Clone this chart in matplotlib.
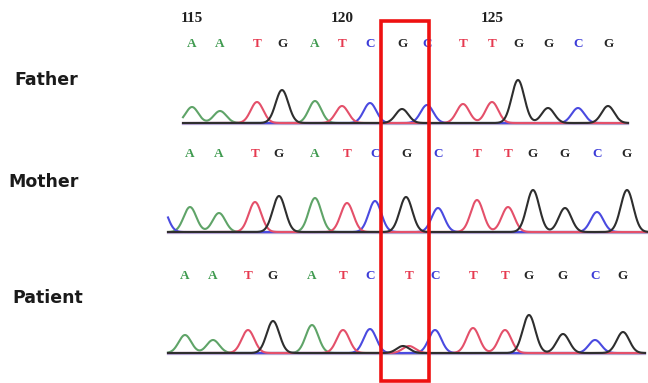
import numpy as np
import matplotlib.pyplot as plt
from matplotlib.patches import Rectangle


# ==================================================
# data
# ==================================================

position_labels = [115, 120, 125]

father_bases = list("AATGATCGCTTGGCG")
father_peak_pos = [192, 220, 257, 282, 315, 342, 370, 402, 427, 463, 492, 518, 548, 578, 608]
father_peak_height = [16, 12, 21, 33, 22, 17, 20, 14, 18, 19, 21, 43, 15, 15, 17]

mother_bases = list("AATGATCGCTTGGCG")
mother_peak_pos = [190, 219, 255, 279, 315, 347, 375, 406, 438, 477, 508, 533, 565, 597, 627]
mother_peak_height = [25, 19, 30, 36, 34, 29, 31, 35, 24, 32, 25, 42, 24, 20, 42]
# peak partly cut off at the left edge
mother_extra_base = ["C"]
mother_extra_pos = [161]
mother_extra_height = [27]

patient_bases = list("AATGATCTCTTGGCG")
patient_peak_pos = [185, 213, 248, 273, 312, 343, 370, 409, 435, 473, 505, 529, 563, 595, 623]
patient_peak_height = [18, 13, 23, 32, 28, 23, 24, 7, 23, 25, 23, 38, 19, 13, 21]
# second (mixed) signal under the called T
patient_extra_base = ["G"]
patient_extra_pos = [403]
patient_extra_height = [7]

sample_names = ["Father", "Mother", "Patient"]


# ==================================================
# styling
# ==================================================

base_color = {
    "A": "#3f9a4f",
    "C": "#3c3cd8",
    "G": "#262626",
    "T": "#e63a50",
}
trace_color = {
    "A": "#5fa468",
    "C": "#4a4ae0",
    "G": "#2e2e2e",
    "T": "#e4506a",
}


def channel_trace(x, bases, pos, height, channel, sigma=6.3):

    y = np.zeros_like(x)

    for b, p, h in zip(bases, pos, height):
        if b == channel:
            y += h * np.exp(-(x - p)**2 / (2 * sigma**2))

    return y


def draw_sample(ax, bases, pos, height, extra, baseline, letter_y, x_range):

    x = np.linspace(x_range[0], x_range[1], 1200)

    all_bases = bases + extra[0]
    all_pos = pos + extra[1]
    all_height = height + extra[2]

    # baseline
    ax.plot(x_range, [baseline + 1.2, baseline + 1.2],
            color="#a996cc", lw=1.6, alpha=0.8, zorder=1)
    ax.plot(x_range, [baseline, baseline],
            color="#3a3060", lw=1.2, zorder=2)

    for ch in ["A", "C", "T", "G"]:
        y = channel_trace(x, all_bases, all_pos, all_height, ch)
        ax.plot(x, baseline - y, color=trace_color[ch], lw=1.5, zorder=3)

    for b, p in zip(bases, pos):
        ax.text(p, letter_y, b, color=base_color[b],
                ha="center", va="center",
                fontsize=9.5, family="Liberation Serif",
                fontweight="bold")


fig = plt.figure(figsize=(6.48, 3.83), dpi=100)
ax = fig.add_axes([0, 0, 1, 1])
ax.set_xlim(0, 648)
ax.set_ylim(383, 0)
ax.axis("off")

# position numbers above the father row
for i, n in enumerate(position_labels):
    ax.text(father_peak_pos[i * 5], 18, str(n),
            ha="center", va="center",
            fontsize=11, family="Liberation Serif", fontweight="bold",
            color="#202020")

draw_sample(ax, father_bases, father_peak_pos, father_peak_height,
            ([], [], []), 123, 44, (183, 628))

draw_sample(ax, mother_bases, mother_peak_pos, mother_peak_height,
            (mother_extra_base, mother_extra_pos, mother_extra_height),
            232, 154, (168, 648))

draw_sample(ax, patient_bases, patient_peak_pos, patient_peak_height,
            (patient_extra_base, patient_extra_pos, patient_extra_height),
            353, 276, (168, 645))

# sample labels
label_x = [14, 8, 12]
label_y = [80, 182, 298]
for name, lx, ly in zip(sample_names, label_x, label_y):
    ax.text(lx, ly, name, ha="left", va="center",
            fontsize=12.5, family="DejaVu Sans", fontweight="bold",
            color="#1a1a1a")

# highlight box on the mutated position
ax.add_patch(Rectangle((381, 21), 48, 360, fill=False,
                       edgecolor="#ee1111", lw=2.6, zorder=5))

fig.savefig("out.png", dpi=100)
